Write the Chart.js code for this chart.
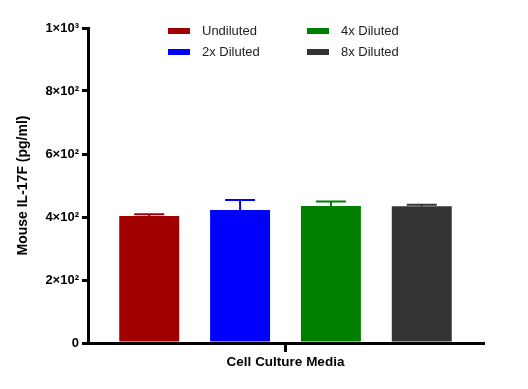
<!DOCTYPE html>
<html><head><meta charset="utf-8">
<script src="https://cdn.jsdelivr.net/npm/chart.js@4"></script>
<style>html,body{margin:0;padding:0;background:#fff}#wrap{width:528px;height:389px}</style>
</head><body><div id="wrap"><canvas id="c" width="528" height="389"></canvas></div>
<script>
const categories = ["Cell Culture Media"];
const seriesNames = ["Undiluted", "2x Diluted", "4x Diluted", "8x Diluted"];
const seriesMeans = [403, 422, 435, 434];
const seriesErrors = [6, 32, 14, 5];
const seriesColors = ["#A00000", "#0000FF", "#008000", "#333333"];
const yTickLabels = {0: "0", 200: "2×10²", 400: "4×10²", 600: "6×10²", 800: "8×10²", 1000: "1×10³"};

const FONT = "'Liberation Sans', Arial, sans-serif";

const errorBarPlugin = {
  id: 'errbars',
  afterDatasetsDraw(chart) {
    const ctx = chart.ctx;
    const y = chart.scales.y;
    chart.data.datasets.forEach((ds, i) => {
      const meta = chart.getDatasetMeta(i);
      meta.data.forEach((bar, j) => {
        const top = y.getPixelForValue(seriesMeans[i] + seriesErrors[i]);
        const base = y.getPixelForValue(seriesMeans[i]);
        ctx.save();
        ctx.strokeStyle = seriesColors[i];
        ctx.lineWidth = 2;
        ctx.beginPath();
        ctx.moveTo(bar.x, base);
        ctx.lineTo(bar.x, top);
        ctx.moveTo(bar.x - 15, top);
        ctx.lineTo(bar.x + 15, top);
        ctx.stroke();
        ctx.restore();
      });
    });
  }
};

const legendPlugin = {
  id: 'customLegend',
  afterDraw(chart) {
    const ctx = chart.ctx;
    const pos = [[168, 31], [168, 52], [307, 31], [307, 52]];
    ctx.save();
    ctx.font = "13px " + FONT;
    ctx.textBaseline = 'middle';
    ctx.textAlign = 'left';
    seriesNames.forEach((n, i) => {
      const [x, yy] = pos[i];
      ctx.fillStyle = seriesColors[i];
      ctx.fillRect(x, yy - 3, 22, 6);
      ctx.fillStyle = '#222';
      ctx.fillText(n, x + 34, yy);
    });
    ctx.restore();
  }
};

new Chart(document.getElementById('c'), {
  type: 'bar',
  data: {
    labels: categories,
    datasets: seriesNames.map((n, i) => ({
      label: n,
      data: [seriesMeans[i]],
      backgroundColor: seriesColors[i],
      borderColor: seriesColors[i],
      borderWidth: 0,
      categoryPercentage: 0.92,
      barPercentage: 0.66
    }))
  },
  options: {
    responsive: false,
    animation: false,
    devicePixelRatio: 1,
    layout: { padding: { left: 0, right: 45, top: 28, bottom: 0 } },
    plugins: { legend: { display: false }, tooltip: { enabled: false } },
    scales: {
      x: {
        afterFit(s) { s.height = 46; },
        grid: { display: true, drawOnChartArea: false, drawTicks: true, tickLength: 9, tickColor: '#000', lineWidth: 3, offset: false },
        border: { display: true, color: '#000', width: 3 },
        ticks: { color: '#000', font: { family: FONT, size: 13.5, weight: 'bold' }, padding: 2 }
      },
      y: {
        min: 0, max: 1000,
        afterFit(s) { s.width = 88; },
        afterBuildTicks(s) { s.ticks = Object.keys(yTickLabels).map(v => ({ value: +v })); },
        grid: { display: true, drawOnChartArea: false, drawTicks: true, tickLength: 6, tickColor: '#000', lineWidth: 3 },
        border: { display: true, color: '#000', width: 3 },
        ticks: {
          color: '#000', padding: 3,
          font: { family: FONT, size: 13, weight: 'bold' },
          callback: v => yTickLabels[v]
        },
        title: {
          display: true, text: 'Mouse IL-17F (pg/ml)', color: '#000',
          font: { family: FONT, size: 14, weight: 'bold' },
          padding: { top: 15, bottom: 0 }
        }
      }
    }
  },
  plugins: [errorBarPlugin, legendPlugin]
});
</script></body></html>
